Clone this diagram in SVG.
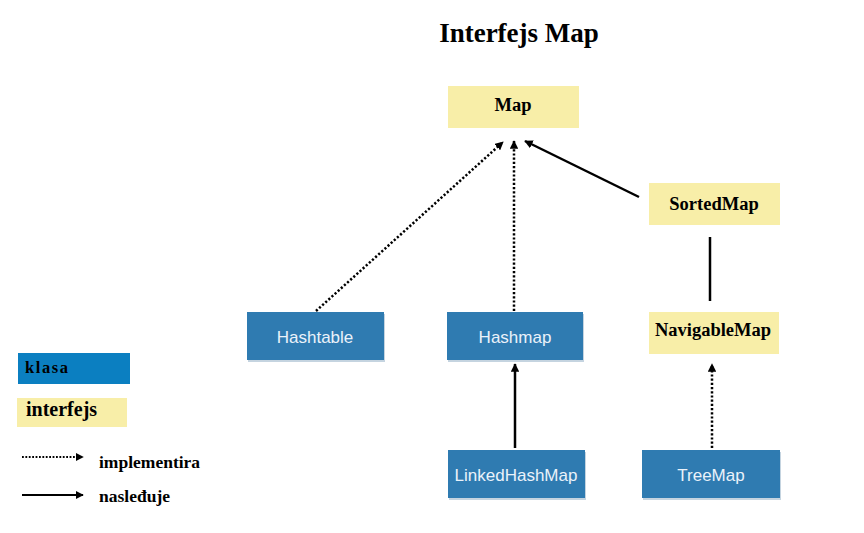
<svg xmlns="http://www.w3.org/2000/svg" width="864" height="533" viewBox="0 0 864 533">
<defs>
<style>
.cls{fill:#2f7bb1}
.shadow{fill:#9fb8cc;opacity:0.6}
.ifc{fill:#f8eea8}
.ct{font-family:"Liberation Sans",Arial,sans-serif;font-size:17px;fill:#eaf2fa;text-anchor:middle}
.it{font-family:"Liberation Serif","Times New Roman",serif;font-weight:bold;font-size:18.5px;fill:#000;text-anchor:middle}
.lt{font-family:"Liberation Serif","Times New Roman",serif;font-weight:bold;fill:#000}
.dot{stroke:#000;stroke-width:2.5;stroke-dasharray:2.2 2;fill:none}
.sol{stroke:#000;stroke-width:2.5;fill:none}
</style>
<marker id="ah" viewBox="0 0 10 10" refX="9" refY="5" markerWidth="3.4" markerHeight="3.4" orient="auto" markerUnits="strokeWidth">
<path d="M0,0 L10,5 L0,10 Z" fill="#000"/>
</marker>
<marker id="ahl" viewBox="0 0 10 10" refX="9" refY="5" markerWidth="4" markerHeight="4" orient="auto" markerUnits="strokeWidth">
<path d="M0,0 L10,5 L0,10 Z" fill="#000"/>
</marker>
</defs>
<rect width="864" height="533" fill="#fff"/>
<text x="519" y="42" class="lt" font-size="27" text-anchor="middle">Interfejs Map</text>

<g id="connectors">
<line class="dot" x1="316" y1="311" x2="503" y2="142" marker-end="url(#ah)"/>
<line class="dot" x1="514" y1="311" x2="514" y2="141" marker-end="url(#ah)"/>
<line class="sol" x1="639" y1="197" x2="525" y2="141" marker-end="url(#ah)"/>
<line class="sol" x1="710" y1="237" x2="710" y2="301"/>
<line class="sol" x1="515" y1="448" x2="515" y2="364" marker-end="url(#ah)"/>
<line class="dot" x1="712" y1="448" x2="712" y2="364" marker-end="url(#ah)"/>
</g>

<g id="Map">
<rect class="ifc" x="448" y="86" width="131" height="42"/>
<text class="it" x="513" y="111">Map</text>
</g>
<g id="SortedMap">
<rect class="ifc" x="649" y="183" width="131" height="42"/>
<text class="it" x="714" y="210">SortedMap</text>
</g>
<g id="NavigableMap">
<rect class="ifc" x="649" y="312" width="130" height="42"/>
<text class="it" x="713" y="336" font-size="19">NavigableMap</text>
</g>
<g id="Hashtable">
<rect class="shadow" x="248" y="314" width="137" height="48"/>
<rect class="cls" x="247" y="312" width="137" height="48"/>
<text class="ct" x="315" y="343">Hashtable</text>
</g>
<g id="Hashmap">
<rect class="shadow" x="448" y="314" width="136" height="48"/>
<rect class="cls" x="447" y="312" width="136" height="48"/>
<text class="ct" x="515" y="343">Hashmap</text>
</g>
<g id="LinkedHashMap">
<rect class="shadow" x="449" y="452" width="137" height="48"/>
<rect class="cls" x="448" y="450" width="137" height="48"/>
<text class="ct" x="516" y="481">LinkedHashMap</text>
</g>
<g id="TreeMap">
<rect class="shadow" x="643" y="452" width="138" height="48"/>
<rect class="cls" x="642" y="450" width="138" height="48"/>
<text class="ct" x="711" y="481">TreeMap</text>
</g>

<g id="legend">
<rect x="18" y="353" width="112" height="31" fill="#0b7fc1"/>
<text class="lt" x="25" y="373" font-size="16.5" letter-spacing="1.6">klasa</text>
<rect x="17" y="398" width="110" height="29" fill="#f8eea8"/>
<text class="lt" x="26" y="416" font-size="20">interfejs</text>
<line x1="22" y1="457" x2="83" y2="457" stroke="#000" stroke-width="2" stroke-dasharray="1.8 1.6" marker-end="url(#ahl)"/>
<text class="lt" x="99" y="468" font-size="17.5">implementira</text>
<line x1="22" y1="495" x2="83" y2="495" stroke="#000" stroke-width="2" marker-end="url(#ahl)"/>
<text class="lt" x="99" y="502" font-size="17.5">nasleđuje</text>
</g>
</svg>
